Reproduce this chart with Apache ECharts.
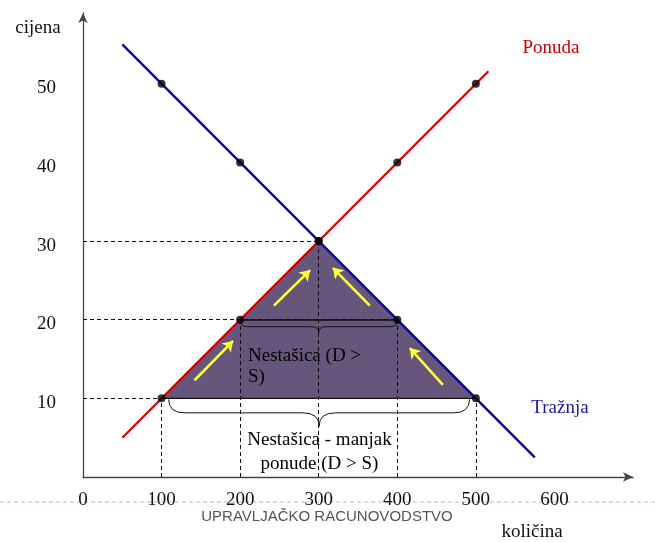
<!DOCTYPE html>
<html>
<head>
<meta charset="utf-8">
<script src="https://cdn.jsdelivr.net/npm/echarts@6/dist/echarts.min.js"></script>
<style>
  html, body { margin: 0; padding: 0; background: #fff; }
  #chart { width: 655px; height: 542px; }
</style>
</head>
<body>
<div id="chart"></div>
<script>
// values
const xTicks = [0, 100, 200, 300, 400, 500, 600]
const yTicks = [10, 20, 30, 40, 50]
const supplyLine = [[50, 5], [516, 51.6]]
const demandLine = [[50, 55], [575, 2.5]]
const supplyPts = [[100, 10], [200, 20], [300, 30], [400, 40], [500, 50]]
const demandPts = [[100, 50], [200, 40], [300, 30], [400, 20], [500, 10]]
const shortageArea = [[100, 10], [300, 30], [500, 10]]
const innerLine = [[200, 20], [400, 20]]
const hGuides = [[300, 30], [400, 20], [500, 10]]
const vGuides = [[100, 10], [200, 20], [300, 30], [400, 20], [500, 10]]
const braces = [[200, 400, 20], [109, 492, 10]]
const moveArrows = [
  [[142, 12.3], [191, 17.3]],
  [[243, 21.8], [289, 26.3]],
  [[365, 21.8], [318, 26.6]],
  [[458, 11.7], [416, 16.4]]
]
const notes = [
  { value: [210, 14], text: 'Nestašica (D >\nS)', align: 'left' },
  { value: [301, 3.2], text: 'Nestašica - manjak\nponude (D > S)', align: 'center' }
]

const serif = '"Liberation Serif", "Times New Roman", serif'
const braceDepth = [12, 27]

const chart = echarts.init(document.getElementById('chart'))

chart.setOption({
  animation: false,
  grid: { left: 83, right: 22, top: 13, bottom: 65 },
  xAxis: {
    type: 'value', min: 0, max: 700,
    splitLine: { show: false },
    axisTick: { show: false },
    axisLine: { onZero: false, symbol: ['none', 'arrow'], symbolSize: [7, 10], lineStyle: { color: '#444', width: 1.3 } },
    axisLabel: { customValues: xTicks, margin: 14, fontFamily: serif, fontSize: 19, color: '#111' }
  },
  yAxis: {
    type: 'value', min: 0, max: 59,
    splitLine: { show: false },
    axisTick: { show: false },
    axisLine: { onZero: false, symbol: ['none', 'arrow'], symbolSize: [7, 10], lineStyle: { color: '#444', width: 1.3 } },
    axisLabel: {
      customValues: yTicks, margin: 27, color: '#111',
      formatter: v => '{t|' + v + '}',
      rich: { t: { fontFamily: serif, fontSize: 19, color: '#111', padding: [9, 0, 0, 0] } }
    }
  },
  graphic: [
    { type: 'line', z: -10, shape: { x1: 0, y1: 502, x2: 655, y2: 502 }, style: { stroke: '#9ec4dc', lineWidth: 1, lineDash: [4, 3] } },
    { type: 'text', x: 38, y: 28, style: { text: 'cijena', font: '19px ' + serif, fill: '#111', align: 'center', verticalAlign: 'middle' } },
    { type: 'text', x: 532, y: 532, style: { text: 'količina', font: '19px ' + serif, fill: '#111', align: 'center', verticalAlign: 'middle' } },
    { type: 'text', x: 551, y: 48, style: { text: 'Ponuda', font: '19px ' + serif, fill: '#cc0000', align: 'center', verticalAlign: 'middle' } },
    { type: 'text', x: 560, y: 408, style: { text: 'Tražnja', font: '19px ' + serif, fill: '#1a1aa6', align: 'center', verticalAlign: 'middle' } },
    { type: 'text', x: 327, y: 517, style: { text: 'UPRAVLJAČKO RACUNOVODSTVO', font: '15px "Liberation Sans", Arial, sans-serif', fill: '#555', align: 'center', verticalAlign: 'middle' } }
  ],
  series: [
    {
      // shortage triangle
      type: 'custom',
      z: 1,
      data: [0],
      renderItem: (params, api) => ({
        type: 'polygon',
        shape: { points: shortageArea.map(p => api.coord(p)) },
        style: { fill: '#66567c', stroke: '#111', lineWidth: 1.2 }
      })
    },
    {
      type: 'lines', coordinateSystem: 'cartesian2d', z: 2, silent: true,
      lineStyle: { color: '#111', width: 1, type: [4, 3], opacity: 1 },
      data: hGuides.map(p => ({ coords: [[0, p[1]], p] }))
        .concat(vGuides.map(p => ({ coords: [[p[0], 0], p] })))
    },
    {
      type: 'lines', coordinateSystem: 'cartesian2d', z: 3, silent: true,
      lineStyle: { color: '#111', width: 1.5, opacity: 1 },
      data: [{ coords: innerLine }]
    },
    {
      // braces
      type: 'custom',
      z: 3,
      data: braces.map((b, i) => [b[0], b[1], b[2], i]),
      renderItem: (params, api) => {
        const a = api.coord([api.value(0), api.value(2)])
        const b = api.coord([api.value(1), api.value(2)])
        const h = braceDepth[api.value(3)]
        const x1 = a[0], x2 = b[0], y0 = a[1] + 1, xm = (x1 + x2) / 2
        const r = h * 0.6, ym = y0 + h / 2
        const path = `M${x1} ${y0} Q${x1} ${ym} ${x1 + r} ${ym} L${xm - r} ${ym} Q${xm} ${ym} ${xm} ${y0 + h} ` +
          `Q${xm} ${ym} ${xm + r} ${ym} L${x2 - r} ${ym} Q${x2} ${ym} ${x2} ${y0}`
        return {
          type: 'path',
          shape: { pathData: path },
          style: { fill: null, stroke: '#111', lineWidth: 1 }
        }
      }
    },
    {
      name: 'Ponuda', type: 'line', z: 4, symbol: 'none',
      lineStyle: { color: '#d40000', width: 2.2 },
      data: supplyLine
    },
    {
      name: 'Tražnja', type: 'line', z: 4, symbol: 'none',
      lineStyle: { color: '#0a0a9a', width: 2.4 },
      data: demandLine
    },
    {
      type: 'lines', coordinateSystem: 'cartesian2d', z: 5, silent: true,
      symbol: ['none', 'arrow'], symbolSize: 10,
      lineStyle: { color: '#ffff3a', width: 2.6, opacity: 1 },
      data: moveArrows.map(c => ({ coords: c }))
    },
    {
      type: 'scatter', z: 6, symbol: 'circle', symbolSize: 8,
      itemStyle: { color: '#000' },
      data: supplyPts.concat(demandPts)
    },
    {
      type: 'scatter', z: 7, symbolSize: 0, silent: true,
      itemStyle: { color: '#000', opacity: 0 },
      data: notes.map(n => ({
        value: n.value,
        label: {
          show: true, position: 'inside', formatter: n.text, align: n.align,
          fontFamily: serif, fontSize: 19, color: '#000', textBorderWidth: 0, opacity: 1,
          lineHeight: n.align === 'left' ? 21 : 24
        }
      }))
    }
  ]
})
</script>
</body>
</html>
